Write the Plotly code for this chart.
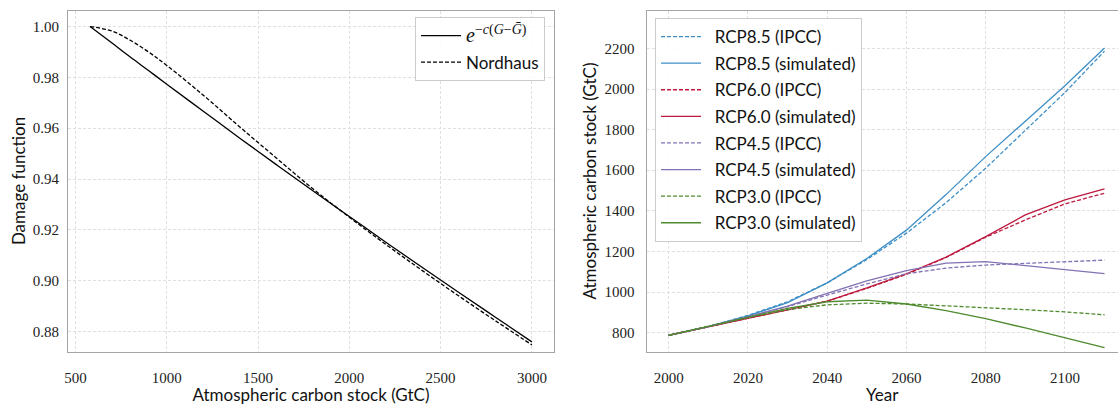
import plotly.graph_objects as go

# ---- Left panel data ----
G = [580, 700, 800, 900, 1000, 1200, 1400, 1600, 1800, 2000, 2200, 2400, 2600, 2800, 3000]
damage_exp = [1.0, 0.9935, 0.9880, 0.9827, 0.9773, 0.9667, 0.9561, 0.9457, 0.9354,
              0.9253, 0.9152, 0.9052, 0.8954, 0.8857, 0.8760]
damage_nordhaus = [1.0, 0.9982, 0.9946, 0.9900, 0.9847, 0.9730, 0.9605, 0.9483, 0.9362,
                   0.9250, 0.9143, 0.9040, 0.8940, 0.8843, 0.8748]

# ---- Right panel data ----
years = [2000, 2010, 2020, 2030, 2040, 2050, 2060, 2070, 2080, 2090, 2100, 2110]
rcp85_ipcc = [787, 830, 885, 952, 1045, 1160, 1290, 1440, 1610, 1797, 1983, 2187]
rcp85_sim = [787, 830, 882, 948, 1045, 1165, 1305, 1480, 1667, 1842, 2016, 2202]
rcp60_ipcc = [787, 828, 872, 912, 955, 1018, 1087, 1170, 1270, 1355, 1434, 1487]
rcp60_sim = [787, 828, 872, 912, 955, 1020, 1090, 1172, 1273, 1380, 1454, 1508]
rcp45_ipcc = [787, 830, 878, 928, 985, 1040, 1090, 1118, 1133, 1142, 1150, 1157]
rcp45_sim = [787, 830, 878, 930, 993, 1055, 1106, 1142, 1150, 1129, 1110, 1091]
rcp30_ipcc = [787, 830, 875, 913, 937, 945, 941, 932, 924, 913, 902, 888]
rcp30_sim = [787, 830, 875, 920, 952, 960, 941, 908, 869, 823, 775, 726]

c_blue = "#3d8fc6"
c_red = "#bd1a3f"
c_purple = "#8271b3"
c_green = "#4e8a2e"

series = [
    ("RCP8.5 (IPCC)", rcp85_ipcc, c_blue, "dash"),
    ("RCP8.5 (simulated)", rcp85_sim, c_blue, "solid"),
    ("RCP6.0 (IPCC)", rcp60_ipcc, c_red, "dash"),
    ("RCP6.0 (simulated)", rcp60_sim, c_red, "solid"),
    ("RCP4.5 (IPCC)", rcp45_ipcc, c_purple, "dash"),
    ("RCP4.5 (simulated)", rcp45_sim, c_purple, "solid"),
    ("RCP3.0 (IPCC)", rcp30_ipcc, c_green, "dash"),
    ("RCP3.0 (simulated)", rcp30_sim, c_green, "solid"),
]

W, H = 1118, 405
fig = go.Figure()

math_label = ("<span style='font-family:Liberation Serif;font-size:20px'>"
              "<i>e</i><sup>−<i>c</i>(<i>G</i>−<i>\u1E20</i>)</sup></span>")

fig.add_trace(go.Scatter(
    x=G, y=damage_exp, mode="lines", line=dict(color="black", width=1.3, shape="spline"),
    name=math_label, xaxis="x", yaxis="y", legend="legend", legendgroup="a"))
fig.add_trace(go.Scatter(
    x=G, y=damage_nordhaus, mode="lines",
    line=dict(color="black", width=1.3, dash="4px,2px", shape="spline"),
    name="Nordhaus", xaxis="x", yaxis="y", legend="legend", legendgroup="b"))

pad = "\u00a0\u00a0"
for i, (name, vals, col, dash) in enumerate(series):
    fig.add_trace(go.Scatter(
        x=years, y=vals, mode="lines",
        line=dict(color=col, width=1.3, dash=("4px,2px" if dash == "dash" else "solid")),
        name=pad + name, xaxis="x2", yaxis="y2", legend="legend2", legendgroup=f"g{i}"))

tick_font = dict(family="Liberation Serif", size=15, color="#222")
title_font = dict(family="Lato", size=17, color="#111")
spine = "#a5a5a5"
grid = "#e0e0e0"

common_axis = dict(showline=True, linecolor=spine, linewidth=1.2, showgrid=True,
                   gridcolor=grid, griddash="3px,2px", gridwidth=1, zeroline=False,
                   tickfont=tick_font, ticks="outside", tickcolor="rgba(0,0,0,0)",
                   automargin=False)

ydom = [1 - 351.5 / H, 1 - 10.5 / H]

fig.update_layout(
    width=W, height=H, margin=dict(l=0, r=0, t=0, b=0),
    paper_bgcolor="white", plot_bgcolor="white",
    xaxis=dict(domain=[68 / W, 554 / W], range=[459, 3121], tickvals=[500, 1000, 1500, 2000, 2500, 3000],
               mirror=True, ticklen=12, anchor="y",
               title=dict(text="Atmospheric carbon stock (GtC)", font=title_font, standoff=4),
               **common_axis),
    yaxis=dict(domain=ydom, range=[0.8722, 1.0063], tickvals=[0.88, 0.90, 0.92, 0.94, 0.96, 0.98, 1.00],
               tickformat=".2f", mirror=True, ticklen=5, anchor="x",
               title=dict(text="Damage function", font=title_font, standoff=2),
               **common_axis),
    xaxis2=dict(domain=[646.5 / W, 1.0], range=[1994.4, 2113.4],
                tickvals=[2000, 2020, 2040, 2060, 2080, 2100], mirror=True, ticklen=12, anchor="y2",
                title=dict(text="Year", font=title_font, standoff=3),
                **common_axis),
    yaxis2=dict(domain=ydom, range=[707, 2387], tickvals=[800, 1000, 1200, 1400, 1600, 1800, 2000, 2200],
                mirror=False, ticklen=8, anchor="x2",
                title=dict(text="Atmospheric carbon stock (GtC)", font=title_font, standoff=3),
                **common_axis),
    legend=dict(x=545 / W, xanchor="right", y=1 - 17 / H, yanchor="top",
                bordercolor="#cccccc", borderwidth=1, bgcolor="rgba(255,255,255,0.9)",
                font=dict(family="Lato", size=17, color="#111"),
                traceorder="grouped", tracegroupgap=1.5, itemwidth=40),
    legend2=dict(x=655 / W, xanchor="left", y=1 - 18 / H, yanchor="top",
                 bordercolor="#cccccc", borderwidth=1, bgcolor="rgba(255,255,255,0.9)",
                 font=dict(family="Lato", size=17, color="#111"),
                 traceorder="grouped", tracegroupgap=1.5, itemwidth=40),
)

fig.write_html("out.html", config={"displayModeBar": False},
               post_script="document.body.style.margin='0';document.body.style.padding='0';")
